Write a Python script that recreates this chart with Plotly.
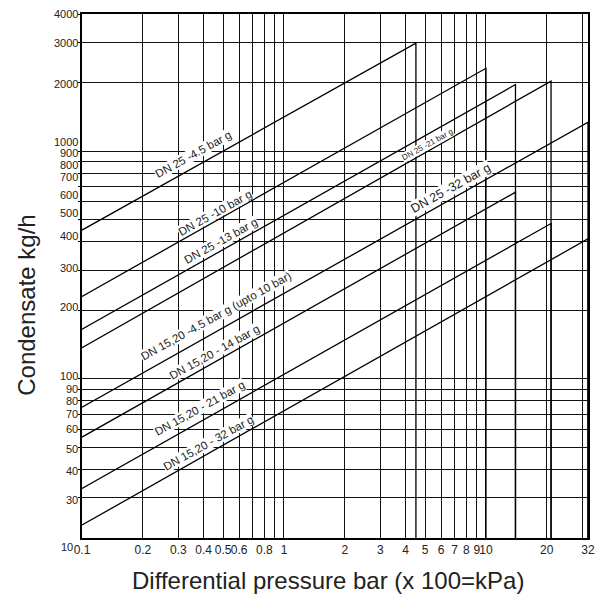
import numpy as np
import plotly.graph_objects as go

# ---------------- data ----------------
series_names = [
    "DN 25 -4.5 bar g", "DN 25 -10 bar g", "DN 25 -13 bar g", "DN 25 -21 bar g",
    "DN 25 -32 bar g / DN 15,20 -4.5 bar g", "DN 15,20 - 14 bar g",
    "DN 15,20 - 21 bar g", "DN 15,20 - 32 bar g",
]
dp_start = [0.1, 0.1, 0.1, 0.1, 0.1, 0.1, 0.1, 0.1]          # bar
flow_start = [450, 230, 165, 137, 75, 55.5, 33, 22.8]           # kg/h
dp_max = [4.5, 10, 14, 21, 32, 14, 21, 32]                      # bar
flow_max = [2980, 2310, 1960, 2030, 1340, 660, 481, 412]        # kg/h

x_tick_vals = [0.1, 0.2, 0.3, 0.4, 0.5, 0.6, 0.7, 0.8, 0.9, 1, 2, 3, 4, 5, 6, 7, 8, 9, 10, 20, 30, 32]
x_tick_text = ["0.1", "0.2", "0.3", "0.4", "0.5", "0.6", "", "0.8", "", "1", "2", "3", "4", "5",
               "6", "7", "8", "9", "10", "20", "", "32"]
y_tick_vals = [30, 40, 50, 60, 70, 80, 90, 100, 200, 300, 400, 500, 600, 700, 800, 900, 1000, 2000, 3000, 4000]
y_tick_text = [str(v) for v in y_tick_vals]
y_min, y_max = 20, 4000
x_min, x_max = 0.1, 32

label_text = [
    "DN 25 -4.5 bar g", "DN 25 -10 bar g", "DN 25 -13 bar g", "DN 25 -21 bar g", "DN 25 -32 bar g",
    "DN 15,20 -4.5 bar g (upto 10 bar)", "DN 15,20 - 14 bar g", "DN 15,20 - 21 bar g", "DN 15,20 - 32 bar g",
]

# ---------------- styling / positions ----------------
label_dp = [0.358, 0.454, 0.485, 5.15, 6.70, 0.461, 0.454, 0.383, 0.422]
label_flow = [967, 537, 403, 1070, 692, 189, 131, 74.6, 52.3]
label_size = [11.5, 11.5, 11.5, 8, 12.5, 11.5, 11.5, 11.5, 11.5]
y_label_shift = [-2, -2, -1.5, 0, 0, 0, 0.5, 2.5, 3, 2, 5.5, 7, 6.5, 9, 8, 8.5, 9, -1, -1, 0]

FONT = "Liberation Sans, Arial, sans-serif"
TXT = "#222222"

fig = go.Figure()

for name, x0, q0, x1, q1 in zip(series_names, dp_start, flow_start, dp_max, flow_max):
    fig.add_trace(go.Scatter(
        x=[x0, x1, x1], y=[q0, q1, y_min], mode="lines", name=name,
        line=dict(color="black", width=1.3), showlegend=False, hoverinfo="skip",
    ))

annotations = []
for t, xv, yv, fs in zip(label_text, label_dp, label_flow, label_size):
    annotations.append(dict(
        x=np.log10(xv), y=np.log10(yv), xref="x", yref="y", text=t, showarrow=False,
        textangle=-29, bgcolor="white", borderpad=0,
        font=dict(family=FONT, size=fs, color=TXT),
    ))

for v, t, s in zip(y_tick_vals, y_tick_text, y_label_shift):
    annotations.append(dict(
        x=0, xref="paper", y=np.log10(v), yref="y", text=t, showarrow=False,
        xanchor="right", yanchor="middle", xshift=-2, yshift=s,
        font=dict(family=FONT, size=11, color=TXT),
    ))

# bottom-left "10" as printed in the reference
annotations.append(dict(
    x=0, xref="paper", y=0, yref="paper", text="10", showarrow=False,
    xanchor="right", yanchor="middle", xshift=-7, yshift=-9,
    font=dict(family=FONT, size=11, color=TXT),
))

# axis titles
annotations.append(dict(
    x=(331 - 82) / 513, xref="paper", y=(538 - 580) / 524, yref="paper",
    text="Differential pressure bar (x 100=kPa)", showarrow=False,
    xanchor="center", yanchor="middle", font=dict(family=FONT, size=24, color=TXT),
))
annotations.append(dict(
    x=(25 - 82) / 513, xref="paper", y=(538 - 305) / 524, yref="paper", text="Condensate kg/h",
    showarrow=False, textangle=-90, xanchor="center", yanchor="middle",
    font=dict(family=FONT, size=24, color=TXT),
))

fig.update_layout(
    width=606, height=596,
    margin=dict(l=82, r=11, t=14, b=58),
    paper_bgcolor="white", plot_bgcolor="white",
    showlegend=False,
    annotations=annotations,
    xaxis=dict(
        type="log", range=[np.log10(x_min), np.log10(x_max)],
        tickmode="array", tickvals=x_tick_vals, ticktext=x_tick_text,
        tickangle=0,
        showgrid=True, gridcolor="#111111", gridwidth=1,
        showline=True, mirror=True, linecolor="black", linewidth=1.5,
        ticks="", tickfont=dict(family=FONT, size=12, color=TXT),
        zeroline=False,
    ),
    yaxis=dict(
        type="log", range=[np.log10(y_min), np.log10(y_max)],
        tickmode="array", tickvals=y_tick_vals, ticktext=y_tick_text,
        showticklabels=False,
        showgrid=True, gridcolor="#111111", gridwidth=1,
        showline=True, mirror=True, linecolor="black", linewidth=1.5,
        ticks="outside", ticklen=2, tickcolor="black",
        zeroline=False,
    ),
)

fig.write_html("out.html", config={"displayModeBar": False},
               post_script="document.body.style.margin='0';")
